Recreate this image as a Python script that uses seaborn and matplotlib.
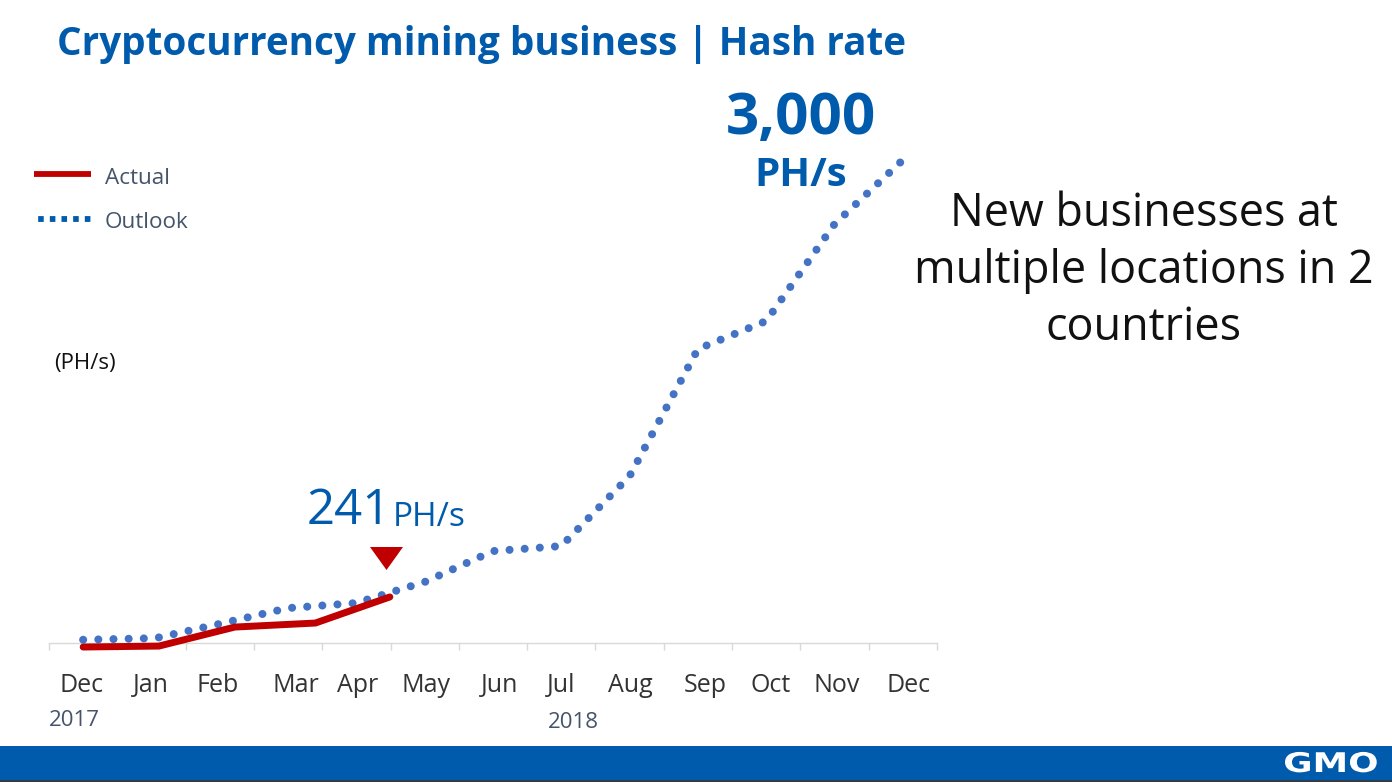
import matplotlib
matplotlib.use("Agg")
import matplotlib.pyplot as plt
from matplotlib.lines import Line2D
from matplotlib.patches import Polygon, Rectangle
from matplotlib.patheffects import AbstractPathEffect
from matplotlib.transforms import Affine2D
import pandas as pd
import seaborn as sns

W, H = 1392, 782

months = ["Dec", "Jan", "Feb", "Mar", "Apr", "May", "Jun", "Jul", "Aug", "Sep", "Oct", "Nov", "Dec"]
outlook_x = [0, 1.06, 1.99, 3, 3.99, 5, 6, 7, 8, 9, 10, 11, 12]
outlook_y = [20, 30, 118, 217, 248, 379, 571, 602, 1037, 1826, 2000, 2602, 3000]
actual_x = [0, 1.11, 2.22, 3.4, 4.49]
actual_y = [-25, -19, 99, 124, 286]

# where the slide puts the month labels (they are not evenly spaced)
label_px = [82, 151, 218, 296, 358, 426, 500, 561, 630, 705, 771, 837, 909]

BLUE = "#005BAC"
DOT_BLUE = "#4472C4"
RED = "#C00000"
SLATE = "#44546A"


class Stretch(AbstractPathEffect):
    # the logo is much wider than any installed bold face
    def __init__(self, sx, cx):
        super().__init__()
        self.sx, self.cx = sx, cx

    def draw_path(self, renderer, gc, tpath, affine, rgbFace=None):
        wide = affine + Affine2D().translate(-self.cx, 0).scale(self.sx, 1).translate(self.cx, 0)
        renderer.draw_path(gc, tpath, wide, rgbFace)


sns.set_theme(style="white")
plt.rcParams["font.family"] = ["Open Sans", "DejaVu Sans"]
plt.rcParams["lines.scale_dashes"] = False

fig = plt.figure(figsize=(W / 100, H / 100), dpi=100, facecolor="white")
ax = fig.add_axes([49 / W, 1 - 643 / H, (937 - 49) / W, (643 - 160) / H])


def put(px, py, s, **kw):
    kw.setdefault("ha", "center")
    kw.setdefault("va", "center")
    return fig.text(px / W, 1 - py / H, s, **kw)


outlook = pd.DataFrame({"x": outlook_x, "y": outlook_y})
actual = pd.DataFrame({"x": actual_x, "y": actual_y})

dots = (0, (0.01, 10.91))
sns.lineplot(data=outlook, x="x", y="y", ax=ax, color=DOT_BLUE, lw=5.8, linestyle=dots,
             dash_capstyle="round", clip_on=False, errorbar=None, zorder=3)
sns.lineplot(data=actual, x="x", y="y", ax=ax, color=RED, lw=5.0, solid_capstyle="round",
             solid_joinstyle="miter", clip_on=False, errorbar=None, zorder=4)

ax.set_xlim(-0.5, 12.5)
ax.set_ylim(0, 3000)
ax.set_xlabel("")
ax.set_ylabel("")
ax.set_yticks([])
ax.set_xticks([i - 0.5 for i in range(14)])
ax.set_xticklabels([])
ax.tick_params(axis="x", bottom=True, length=5, width=1, color="#D9D9D9")
sns.despine(ax=ax, left=True)
ax.spines["bottom"].set_color("#D9D9D9")
ax.spines["bottom"].set_linewidth(1)
ax.patch.set_alpha(0)

handles = [
    Line2D([], [], color=RED, lw=4.2, solid_capstyle="butt"),
    Line2D([], [], color=BLUE, lw=4.2, linestyle=(5.4, (4, 4.4)), dash_capstyle="butt"),
]
fig.legend(handles, ["Actual", "Outlook"], loc="upper left", bbox_to_anchor=(27 / W, 1 - 158 / H),
           frameon=False, fontsize=16.2, labelcolor=SLATE, handlelength=2.55, handletextpad=0.62,
           handleheight=1.15, labelspacing=0.94, borderpad=0.3, borderaxespad=0)

for px, m in zip(label_px, months):
    put(px, 685.5, m, fontsize=18, color="#333333")
put(74, 720, "2017", fontsize=16, color=SLATE)
put(573, 722, "2018", fontsize=16, color=SLATE)
put(85, 363, "(PH/s)", fontsize=16, color="#111111")

put(57, 45, "Cryptocurrency mining business | Hash rate", ha="left", fontsize=27.8,
    fontweight="bold", color=BLUE)
put(801, 119, "3,000", fontsize=42, fontweight="bold", color=BLUE)
put(801, 175, "PH/s", fontsize=29, fontweight="bold", color=BLUE)
put(307, 511, "241", ha="left", fontsize=35.5, color=BLUE)
put(393, 517, "PH/s", ha="left", fontsize=24, color=BLUE)
fig.add_artist(Polygon([(370 / W, 1 - 547 / H), (403 / W, 1 - 547 / H), (386.5 / W, 1 - 570 / H)],
                       closed=True, color=RED, transform=fig.transFigure, lw=0))

for py, line in zip([214, 271, 328], ["New businesses at", "multiple locations in 2", "countries"]):
    put(1144, py, line, fontsize=32.3, color="#111111")

# footer bar
fig.add_artist(Rectangle((0, 2 / H), 1, 34 / H, color=BLUE, transform=fig.transFigure, lw=0))
fig.add_artist(Rectangle((0, 0), 1, 2 / H, color="#333B44", transform=fig.transFigure, lw=0))
logo = put(1331, 765, "GMO", fontsize=19.5, fontweight="bold", color="white", family="DejaVu Sans")
logo.set_path_effects([Stretch(1.32, 1331)])

fig.savefig("out.png", dpi=100, facecolor="white")
